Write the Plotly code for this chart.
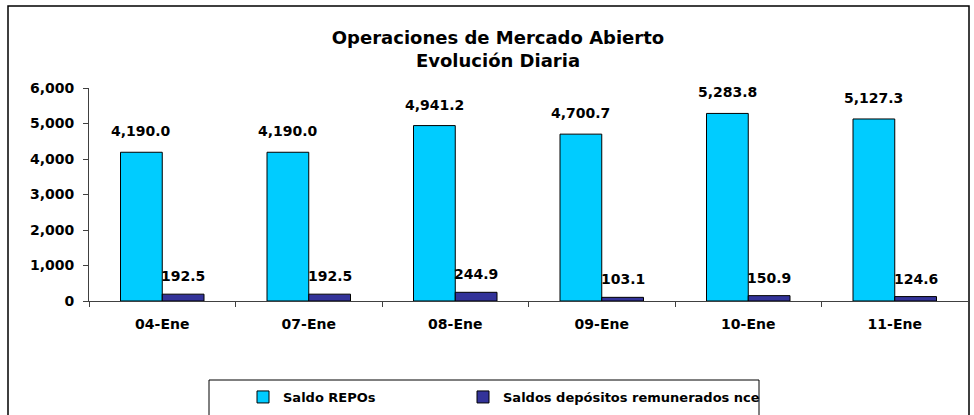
import plotly.graph_objects as go

categories = ["04-Ene", "07-Ene", "08-Ene", "09-Ene", "10-Ene", "11-Ene"]
repos = [4190.0, 4190.0, 4941.2, 4700.7, 5283.8, 5127.3]
depositos = [192.5, 192.5, 244.9, 103.1, 150.9, 124.6]
series_names = ["Saldo REPOs", "Saldos depósitos remunerados nce"]
y_ticks = [0, 1000, 2000, 3000, 4000, 5000, 6000]

W, H = 974, 415
PL, PR, PT, PB = 89, 968, 88, 301  # plot area in pixels
FONT = "DejaVu Sans"

def px_x(p):
    return (p - PL) / (PR - PL)

def px_y(p):
    return (PB - p) / (PB - PT)

fig = go.Figure()
fig.add_trace(go.Bar(x=categories, y=repos, name=series_names[0], legend="legend",
                     marker=dict(color="#00CCFF", line=dict(color="black", width=1))))
fig.add_trace(go.Bar(x=categories, y=depositos, name=series_names[1], legend="legend2",
                     marker=dict(color="#333399", line=dict(color="black", width=1))))

annotations = []
for cat, v in zip(categories, repos):
    annotations.append(dict(x=cat, y=v, xref="x", yref="y", text=f"{v:,.1f}",
                            showarrow=False, xshift=-21, yshift=21, yanchor="middle",
                            font=dict(family=FONT, size=14, color="black", weight="bold")))
for cat, v in zip(categories, depositos):
    annotations.append(dict(x=cat, y=v, xref="x", yref="y", text=f"{v:,.1f}",
                            showarrow=False, xshift=21, yshift=18, yanchor="middle",
                            font=dict(family=FONT, size=14, color="black", weight="bold")))

legend_common = dict(orientation="h", xref="container", yref="container",
                     xanchor="left", y=1 - 397 / H, yanchor="middle",
                     font=dict(family=FONT, size=13, color="black", weight="bold"),
                     bgcolor="rgba(0,0,0,0)", borderwidth=0)

fig.update_layout(
    width=W, height=H,
    margin=dict(l=PL, r=W - PR, t=PT, b=H - PB, pad=0, autoexpand=False),
    paper_bgcolor="white", plot_bgcolor="white",
    barmode="group", bargap=0.43, bargroupgap=0,
    font=dict(family=FONT, color="black"),
    title=dict(text="<b>Operaciones de Mercado Abierto<br>Evolución Diaria</b>",
               x=498 / W, xref="container", xanchor="center",
               y=1 - 44 / H, yref="container", yanchor="middle",
               font=dict(family=FONT, size=18, color="black")),
    annotations=annotations,
    showlegend=True,
    legend=dict(x=243 / W, **legend_common),
    legend2=dict(x=463 / W, **legend_common),
    shapes=[
        dict(type="rect", xref="paper", yref="paper",
             x0=px_x(8), x1=px_x(969), y0=px_y(430), y1=px_y(6),
             line=dict(color="black", width=1.5), layer="below"),
        dict(type="rect", xref="paper", yref="paper",
             x0=px_x(209), x1=px_x(759), y0=px_y(425), y1=px_y(380),
             line=dict(color="black", width=1), layer="below"),
    ],
)

fig.update_xaxes(type="category", showline=True, linecolor="#404040", linewidth=1,
                 ticks="outside", tickson="boundaries", ticklen=5, tickcolor="#404040",
                 showgrid=False, zeroline=False, ticklabelstandoff=10,
                 tickfont=dict(family=FONT, size=14, color="black", weight="bold"))
fig.update_yaxes(range=[0, 6000], tickvals=y_ticks, tickformat=",", showline=True,
                 linecolor="#404040", linewidth=1, ticks="outside", ticklen=5,
                 tickcolor="#404040", showgrid=False, zeroline=False, ticklabelstandoff=6,
                 tickfont=dict(family=FONT, size=14, color="black", weight="bold"))

fig.write_html("out.html", config={"displayModeBar": False},
               post_script="document.body.style.margin='0';")
